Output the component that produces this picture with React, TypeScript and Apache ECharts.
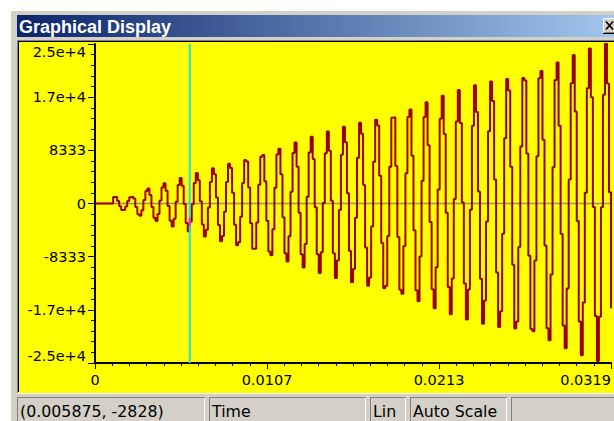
import React, { useEffect, useRef } from "react";
import * as echarts from "echarts";

// ---------- data ----------
const SAMPLE_RATE = 8000; // samples per second (cursor 0.005875 s = sample 47)
const X_MAX = 0.032;
const Y_MAX = 25000;

const samples: number[] = [
  0, 0, 0, 0, 0, 0, 0, 0, 0,
  1031, 1005, 407, -423, -1012, -1025, -454, 375, 991, 1043,
  774, -535, -1672, -1922, -1040, 557,
  1971, 2335, 1338, -538, -2246, -2752, -1665, 486,
  2496, 3168, 2016, -394, -2720, -3586, -2394, 266,
  2913, 3996, 2796, -97, -3075, -4400, -2828, -106,
  3205, 4795, 3660, 350, -3300, -5179, -4118, -626,
  3361, 5544, 4589, 940, -3387, -5898, -5075, -1283,
  3371, 6227, 5571, 1670, -3317, -6535, -6072, -2079,
  3231, 6826, 6577, 2523, -3098, -7083, -7084, -2995,
  2923, 7312, 7590, 3501, -2714, -7510, -8092, -4025,
  2453, 7674, 8597, 4581, -2166, -7811, -9086, -5151,
  1824, 7901, 9564, 5753, -1455, -7960, -10019, -6365,
  1040, 7977, 10469, 6985, -578, -7949, -10900, -7623,
  89, 7885, 11300, 8276, 449, -7784, -11677, -8933,
  -1012, 7632, 12027, 9601, 1611, -7428, -12350, -10269,
  -2248, 7181, 12642, 10920, 2908, -6890, -12901, -11591,
  -3605, 6555, 13111, 12241, 4337, -6174, -13296, -12894,
  -5091, 5746, 13427, 13520, 5865, -5269, -13529, -14145,
  -6659, 4742, 13571, 14738, 7471, -4181, -13581, -15310,
  -8300, 3568, 13540, 15876, 9144, -2903, -13448, -16401,
  -10003, 2201, 13300, 16898, 10876, -1462, -13096, -17365,
  -11743, 686, 12850, 17800, 12602, 144, -12543, -18200,
  -13469, -994, 12192, 18544, 14343, 1880, -11794, -18848,
  -15204, -2803, 11329, 19128, 16049, 3763, -10796, -19345,
  -16895, -4760, 10231, 19513, 17702, 5753, -9615, -19611,
  -18506, -6802, 8924, 19677, 19285, 7844, -8201, -19688,
  -20038, -8921, 7400, 19642, 20761, 10010, -6564, -19536,
  -21430, -11110, 5693, 19368, 22087, 12198, -4763, -19136,
  -22707, -13317, 3775, 18837, 23265, 14420, -2749, -18493,
  -23804, -15528, 1687, 18077, 24276, 16641, -564, -17614,
  -24700, -17732, -573, 17050, 25075, 18824, 1746, -16434,
];

const xTickLabels = ["0", "0.0107", "0.0213", "0.0319"];
const yTickLabels = ["-2.5e+4", "-1.7e+4", "-8333", "0", "8333", "1.7e+4", "2.5e+4"];

const cursorTime = 0.005875;
const cursorValue = -2828;

const titleText = "Graphical Display";
const statusTexts = ["(0.005875, -2828)", "Time", "Lin", "Auto Scale", ""];

// ---------- layout ----------
const W = 614;
const H = 421;
const FACE = "#d4d0c8";
const paneEdges: [number, number][] = [
  [17, 205],
  [209, 366],
  [370, 406],
  [410, 507],
  [511, 640],
];

function buildGraphic(): any[] {
  const g: any[] = [];
  // window face
  g.push({ type: "rect", z: 0, shape: { x: 10, y: 10, width: 640, height: 420 }, style: { fill: FACE } });
  g.push({ type: "line", z: 0, shape: { x1: 10.5, y1: 10, x2: 10.5, y2: H }, style: { stroke: "#ffffff", lineWidth: 1 } });
  g.push({ type: "line", z: 0, shape: { x1: 10, y1: 10.5, x2: W, y2: 10.5 }, style: { stroke: "#ffffff", lineWidth: 1 } });
  // title bar
  g.push({
    type: "rect",
    z: 0,
    shape: { x: 17, y: 15, width: 612, height: 22 },
    style: {
      fill: new echarts.graphic.LinearGradient(0, 0, 1, 0, [
        { offset: 0, color: "#0a246a" },
        { offset: 1, color: "#a6caf0" },
      ]),
    },
  });
  g.push({
    type: "text",
    z: 1,
    x: 19,
    y: 26.5,
    style: {
      text: titleText,
      fill: "#ffffff",
      fontFamily: "Liberation Sans",
      fontWeight: "bold",
      fontSize: 18,
      align: "left",
      verticalAlign: "middle",
    },
  });
  // close button (partly visible)
  g.push({ type: "rect", z: 1, shape: { x: 603, y: 18, width: 18, height: 15 }, style: { fill: FACE } });
  g.push({ type: "line", z: 1, shape: { x1: 603.5, y1: 18, x2: 603.5, y2: 33 }, style: { stroke: "#ffffff", lineWidth: 1 } });
  g.push({ type: "line", z: 1, shape: { x1: 603, y1: 18.5, x2: 621, y2: 18.5 }, style: { stroke: "#ffffff", lineWidth: 1 } });
  g.push({ type: "line", z: 1, shape: { x1: 603, y1: 33.5, x2: 621, y2: 33.5 }, style: { stroke: "#000000", lineWidth: 1 } });
  g.push({ type: "line", z: 1, shape: { x1: 604, y1: 32.5, x2: 621, y2: 32.5 }, style: { stroke: "#808080", lineWidth: 1 } });
  g.push({ type: "line", z: 1, shape: { x1: 606, y1: 21.5, x2: 613, y2: 29.5 }, style: { stroke: "#000000", lineWidth: 1.6 } });
  g.push({ type: "line", z: 1, shape: { x1: 613, y1: 21.5, x2: 606, y2: 29.5 }, style: { stroke: "#000000", lineWidth: 1.6 } });
  // plot panel (yellow, sunken)
  g.push({ type: "rect", z: 0, shape: { x: 18, y: 41, width: 620, height: 352 }, style: { fill: "#ffff00" } });
  g.push({ type: "line", z: 1, shape: { x1: 17, y1: 40.5, x2: W, y2: 40.5 }, style: { stroke: "#808080", lineWidth: 1 } });
  g.push({ type: "line", z: 1, shape: { x1: 18, y1: 41.5, x2: W, y2: 41.5 }, style: { stroke: "#000000", lineWidth: 1 } });
  g.push({ type: "line", z: 1, shape: { x1: 17.5, y1: 40, x2: 17.5, y2: 393 }, style: { stroke: "#808080", lineWidth: 1 } });
  g.push({ type: "line", z: 1, shape: { x1: 18.5, y1: 41, x2: 18.5, y2: 392 }, style: { stroke: "#000000", lineWidth: 1 } });
  g.push({ type: "line", z: 1, shape: { x1: 17, y1: 393.5, x2: W, y2: 393.5 }, style: { stroke: "#ffffff", lineWidth: 1 } });
  // status bar panes
  paneEdges.forEach(([x0, x1], i) => {
    g.push({ type: "line", z: 1, shape: { x1: x0, y1: 397.5, x2: x1, y2: 397.5 }, style: { stroke: "#808080", lineWidth: 1 } });
    g.push({ type: "line", z: 1, shape: { x1: x0 + 0.5, y1: 397, x2: x0 + 0.5, y2: H }, style: { stroke: "#808080", lineWidth: 1 } });
    g.push({ type: "line", z: 1, shape: { x1: x1 - 0.5, y1: 398, x2: x1 - 0.5, y2: H }, style: { stroke: "#ffffff", lineWidth: 1 } });
    if (statusTexts[i]) {
      g.push({
        type: "text",
        z: 1,
        x: x0 + 3,
        y: 411,
        style: {
          text: statusTexts[i],
          fill: "#000000",
          fontFamily: "DejaVu Sans",
          fontSize: 15.8,
          align: "left",
          verticalAlign: "middle",
        },
      });
    }
  });
  return g;
}

export default function App() {
  const ref = useRef<HTMLDivElement>(null);

  useEffect(() => {
    if (!ref.current) return;
    const chart = echarts.init(ref.current, undefined, { renderer: "svg" });
    const xStep = X_MAX / 3;
    const yStep = Y_MAX / 3;
    const lineData = samples.map((v, i) => [i / SAMPLE_RATE, v]);
    const labelFont = { color: "#000000", fontFamily: "DejaVu Sans", fontSize: 14.5 };

    chart.setOption({
      animation: false,
      backgroundColor: "#ffffff",
      graphic: { elements: buildGraphic() },
      grid: { left: 95, top: 44, width: 516, height: 319, containLabel: false },
      xAxis: {
        type: "value",
        z: 3,
        min: 0,
        max: X_MAX,
        interval: xStep,
        axisLine: { show: true, onZero: false, lineStyle: { color: "#000000", width: 2 } },
        axisTick: { show: true, length: 6, lineStyle: { color: "#000000", width: 1 } },
        minorTick: { show: true, splitNumber: 10, length: 3, lineStyle: { color: "#000000", width: 1 } },
        splitLine: { show: false },
        axisLabel: {
          ...labelFont,
          margin: 9,
          alignMaxLabel: "right",
          formatter: (v: number) => xTickLabels[Math.round(v / xStep)] ?? "",
        },
      },
      yAxis: {
        type: "value",
        z: 3,
        min: -Y_MAX,
        max: Y_MAX,
        interval: yStep,
        axisLine: { show: true, onZero: false, lineStyle: { color: "#000000", width: 2 } },
        axisTick: { show: true, length: 7, lineStyle: { color: "#000000", width: 1 } },
        minorTick: { show: true, splitNumber: 5, length: 4, lineStyle: { color: "#000000", width: 1 } },
        splitLine: { show: false },
        axisLabel: {
          ...labelFont,
          margin: 9,
          verticalAlignMaxLabel: "top",
          verticalAlignMinLabel: "bottom",
          formatter: (v: number) => yTickLabels[Math.round(v / yStep) + 3] ?? "",
        },
      },
      series: [
        {
          // zero line
          type: "line",
          z: 1,
          silent: true,
          symbol: "none",
          data: [
            [0, 0],
            [X_MAX, 0],
          ],
          lineStyle: { color: "#8c8c8c", width: 1.5 },
        },
        {
          type: "line",
          z: 2,
          data: lineData,
          step: "end",
          symbol: "none",
          showSymbol: false,
          silent: true,
          lineStyle: { color: "#9b0000", width: 2 },
        },
        {
          // cursor
          type: "line",
          z: 3,
          silent: true,
          symbol: "none",
          data: [
            [cursorTime, -Y_MAX],
            [cursorTime, Y_MAX],
          ],
          lineStyle: { color: "#22dded", width: 2 },
        },
        {
          type: "scatter",
          z: 4,
          silent: true,
          data: [[cursorTime, cursorValue]],
          symbol: "rect",
          symbolSize: [2, 8],
          itemStyle: { color: "#ff00ff" },
        },
      ],
    });

    return () => chart.dispose();
  }, []);

  return (
    <div
      ref={ref}
      style={{ position: "fixed", left: 0, top: 0, width: W, height: H, background: "#ffffff" }}
    />
  );
}
